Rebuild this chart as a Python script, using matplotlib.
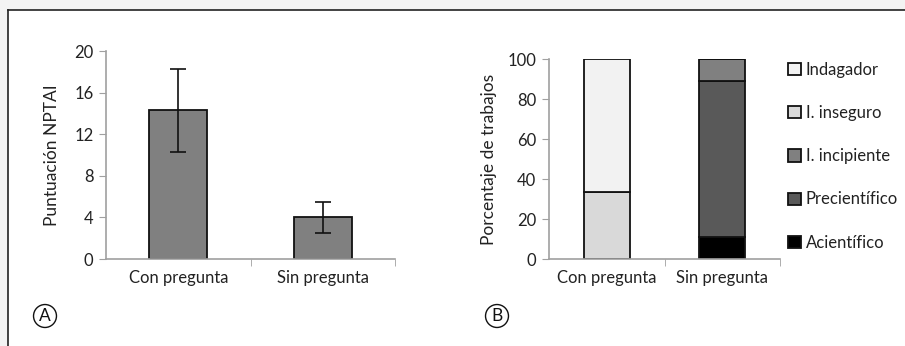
import matplotlib.pyplot as plt
from matplotlib.patches import Rectangle
from matplotlib.lines import Line2D

plt.rcParams['font.family'] = ['Lato', 'DejaVu Sans']

# datos panel A
grupos = ['Con pregunta', 'Sin pregunta']
puntuacion = [14.3, 4.0]
error = [4.0, 1.5]

# datos panel B (porcentajes apilados, de abajo hacia arriba)
niveles = ['Acientífico', 'Precientífico', 'I. incipiente', 'I. inseguro', 'Indagador']
pct_con = [0, 0, 0, 33.3, 66.7]
pct_sin = [11.1, 77.8, 11.1, 0, 0]
colores = ['#000000', '#595959', '#808080', '#d9d9d9', '#f2f2f2']

W, H = 905, 346
fig = plt.figure(figsize=(W / 100, H / 100), dpi=100)
fig.patch.set_facecolor('white')

# marco exterior
fig.patches.append(Rectangle((0, 1 - 10 / H), 1, 10 / H, transform=fig.transFigure,
                             facecolor='#f3f3f3', edgecolor='none'))
fig.patches.append(Rectangle((0, 0), 8 / W, 1, transform=fig.transFigure,
                             facecolor='#f3f3f3', edgecolor='none'))
fig.lines.append(Line2D([8 / W, 1], [1 - 10 / H, 1 - 10 / H], transform=fig.transFigure,
                        color='#222222', lw=1.2))
fig.lines.append(Line2D([8 / W, 8 / W], [0, 1 - 10 / H], transform=fig.transFigure,
                        color='#222222', lw=1.2))

FS = 12

def ax_px(x0, x1, ytop, ybot):
    return fig.add_axes([x0 / W, 1 - ybot / H, (x1 - x0) / W, (ybot - ytop) / H])

def estilo(ax):
    for s in ['top', 'right']:
        ax.spines[s].set_visible(False)
    for s in ['left', 'bottom']:
        ax.spines[s].set_color('#a0a0a0')
        ax.spines[s].set_linewidth(1.2)
    ax.tick_params(axis='y', direction='out', length=5, color='#a0a0a0',
                   labelsize=FS, labelcolor='#222222', pad=4)
    ax.tick_params(axis='x', length=0, labelsize=FS, labelcolor='#222222', pad=8)
    ax.set_xlim(-0.5, 1.5)
    ax.set_xticks([0, 1])
    ax.set_xticklabels(grupos)
    # separador entre categorías
    ax.set_xticks([0.5, 1.5], minor=True)
    ax.tick_params(axis='x', which='minor', direction='out', length=5, color='#a0a0a0')

# panel A
axA = ax_px(106, 395, 51, 259)
axA.bar(range(len(grupos)), puntuacion, width=0.4, color='#808080',
        edgecolor='#111111', linewidth=1.3, yerr=error, capsize=6,
        error_kw=dict(ecolor='#111111', elinewidth=1.2, capthick=1.2))
axA.set_ylim(0, 20)
axA.set_yticks([0, 4, 8, 12, 16, 20])
axA.set_ylabel('Puntuación NPTAI', fontsize=12.5, color='#222222', labelpad=10)
estilo(axA)

# panel B
axB = ax_px(549, 780, 59.3, 259)
base_con, base_sin = 0, 0
for nivel, c, v1, v2 in zip(niveles, colores, pct_con, pct_sin):
    axB.bar(range(len(grupos)), [v1, v2], width=0.4, bottom=[base_con, base_sin],
            color=c, edgecolor='#111111', linewidth=1.3, label=nivel)
    base_con += v1
    base_sin += v2
axB.set_ylim(0, 100)
axB.set_yticks(range(0, 101, 20))
axB.set_ylabel('Porcentaje de trabajos', fontsize=12.5, color='#222222', labelpad=8)
estilo(axB)

h, l = axB.get_legend_handles_labels()
leg = axB.legend(h[::-1], l[::-1], loc='upper left', bbox_to_anchor=(0.985, 1.045),
                 frameon=False, fontsize=FS, handlelength=0.75, handleheight=0.75,
                 handletextpad=0.3, labelspacing=1.63, borderaxespad=0.3)
for t in leg.get_texts():
    t.set_color('#222222')

# etiquetas A y B
for x, letra in [(45, 'A'), (497, 'B')]:
    fig.text(x / W, 1 - 316 / H, letra, ha='center', va='center', fontsize=12.5,
             color='#111111',
             bbox=dict(boxstyle='circle,pad=0.2', facecolor='none', edgecolor='#111111', lw=1))

fig.savefig('out.png', dpi=100)
